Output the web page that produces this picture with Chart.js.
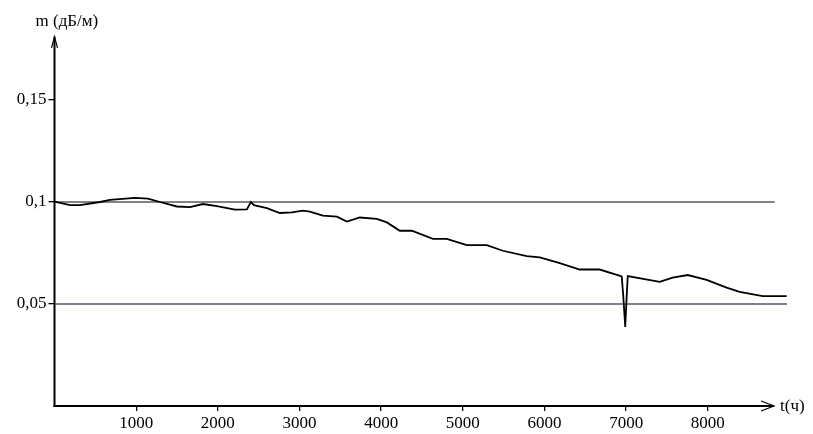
<!DOCTYPE html>
<html>
<head>
<meta charset="utf-8">
<script src="https://cdn.jsdelivr.net/npm/chart.js@4/dist/chart.umd.min.js"></script>
<style>
html,body{margin:0;padding:0;background:#fff;}
#wrap{width:813px;height:434px;position:relative;}
</style>
</head>
<body>
<div id="wrap"><canvas id="c"></canvas></div>
<script>
// Time, hours
const tHours = [0,190,312,557,679,985,1144,1291,1499,1659,1818,1989,2209,2356,2405,2442,2601,2760,2907,3042,3127,3286,3458,3580,3739,3947,4070,4229,4376,4633,4804,5049,5294,5490,5783,5943,6187,6432,6677,6946,6965,6989,7007,7020,7411,7570,7754,7986,8231,8390,8672,8966];
// Attenuation, dB/m
const mValues = [0.1002,0.0985,0.0985,0.1,0.101,0.102,0.1017,0.1,0.0978,0.0975,0.099,0.098,0.0963,0.0964,0.1,0.0985,0.097,0.0946,0.0949,0.0958,0.0953,0.0933,0.0928,0.0904,0.0924,0.0917,0.09,0.0859,0.0859,0.0819,0.0819,0.0789,0.0789,0.0761,0.0735,0.0729,0.07,0.0669,0.0669,0.0635,0.0539,0.0387,0.0539,0.0637,0.0609,0.0629,0.0642,0.0618,0.058,0.056,0.0539,0.0539];
// Reference levels
const upperLevel = 0.1, upperEndT = 8820;
const lowerLevel = 0.05, lowerEndT = 8970;
const xTicks = [1000,2000,3000,4000,5000,6000,7000,8000];
const yTicks = [0.05,0.1,0.15];
const yTickLabels = {0.05:'0,05',0.1:'0,1',0.15:'0,15'};
const yTitle = 'm (дБ/м)';
const xTitle = 't(ч)';

const FONT = '"Liberation Serif","DejaVu Serif",serif';

const axesDeco = {
  id:'axesDeco',
  afterDraw(chart){
    const {ctx, chartArea:a} = chart;
    ctx.save();
    ctx.strokeStyle='#000';
    ctx.lineWidth=2;
    const tipX = a.right - 13;
    // x axis
    ctx.beginPath();
    ctx.moveTo(a.left-1, a.bottom);
    ctx.lineTo(tipX, a.bottom);
    ctx.stroke();
    ctx.lineWidth=1.2;
    ctx.beginPath();
    ctx.moveTo(tipX-13, a.bottom-5);
    ctx.lineTo(tipX, a.bottom);
    ctx.lineTo(tipX-13, a.bottom+5);
    ctx.stroke();
    // y axis
    ctx.lineWidth=2;
    ctx.beginPath();
    ctx.moveTo(a.left, a.bottom+1);
    ctx.lineTo(a.left, a.top-2);
    ctx.stroke();
    ctx.lineWidth=1.2;
    ctx.beginPath();
    ctx.moveTo(a.left-3, a.top+9);
    ctx.lineTo(a.left, a.top-2);
    ctx.lineTo(a.left+3, a.top+9);
    ctx.stroke();
    // titles
    ctx.fillStyle='#000';
    ctx.font='17px '+FONT;
    ctx.textBaseline='middle';
    ctx.textAlign='left';
    ctx.fillText(yTitle, a.left-19, 22);
    ctx.fillText(xTitle, tipX+6, a.bottom+1);
    ctx.restore();
  }
};

new Chart(document.getElementById('c'), {
  type:'line',
  data:{
    datasets:[
      {
        data: tHours.map((t,i)=>({x:t,y:mValues[i]})),
        borderColor:'#000', borderWidth:1.8, pointRadius:0, tension:0, fill:false
      },
      {
        data:[{x:0,y:upperLevel},{x:upperEndT,y:upperLevel}],
        borderColor:'#5a5a5a', borderWidth:1.5, pointRadius:0, fill:false
      },
      {
        data:[{x:0,y:lowerLevel},{x:lowerEndT,y:lowerLevel}],
        borderColor:'#8a7a8e', borderWidth:2, pointRadius:0, fill:false
      }
    ]
  },
  options:{
    responsive:true, maintainAspectRatio:false, animation:false,
    layout:{padding:{top:38.8, right:26, left:0, bottom:0}},
    plugins:{legend:{display:false}, tooltip:{enabled:false}},
    scales:{
      x:{
        type:'linear', min:0, max:8970,
        afterBuildTicks(s){ s.ticks = xTicks.map(v=>({value:v})); },
        afterFit(s){ s.height = 28; },
        grid:{display:true, drawOnChartArea:false, drawTicks:true, tickLength:5, color:'#000', lineWidth:1.3},
        border:{display:false},
        ticks:{color:'#000', font:{family:FONT, size:17}, padding:2, maxRotation:0, autoSkip:false,
               callback:(v)=>String(v)}
      },
      y:{
        type:'linear', min:0, max:0.18,
        afterBuildTicks(s){ s.ticks = yTicks.map(v=>({value:v})); },
        afterFit(s){ s.width = 54.5; },
        grid:{display:true, drawOnChartArea:false, drawTicks:true, tickLength:6, color:'#000', lineWidth:1.3},
        border:{display:false},
        ticks:{color:'#000', font:{family:FONT, size:17}, padding:2, autoSkip:false,
               callback:(v)=>yTickLabels[v] ?? ''}
      }
    }
  },
  plugins:[axesDeco]
});
</script>
</body>
</html>
